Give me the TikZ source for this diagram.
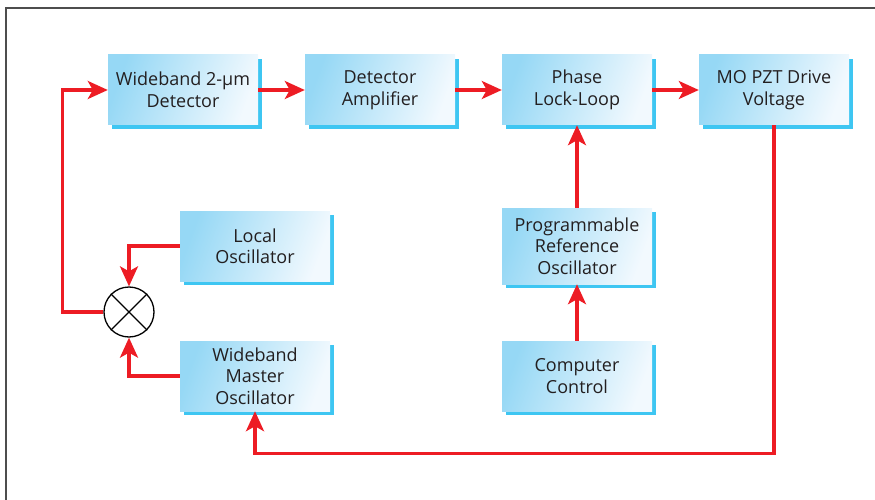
\documentclass[tikz,border=0pt]{standalone}
\usepackage{fontspec}
\setmainfont{Open Sans}
\usetikzlibrary{arrows.meta,shadows}
\definecolor{sigred}{RGB}{237,28,36}
\definecolor{boxblue}{RGB}{150,216,245}
\definecolor{boxwhite}{RGB}{242,249,254}
\definecolor{shadowcyan}{RGB}{62,198,242}
\definecolor{framegray}{RGB}{77,77,77}
\definecolor{textgray}{RGB}{35,31,32}
\begin{document}
\begin{tikzpicture}[x=1pt, y=-1pt,
    block/.style={rectangle, minimum width=150pt, minimum height=70pt, inner sep=2pt,
        align=center, text=textgray, font=\fontsize{18}{21.5}\selectfont,
        left color=boxblue, right color=boxwhite, shading angle=70,
        drop shadow={shadow xshift=4pt, shadow yshift=-4pt, fill=shadowcyan, opacity=1}},
    sig/.style={draw=sigred, line width=3.2pt, -{Stealth[length=20pt, width=18pt, inset=5pt]}},
    mixer/.style={circle, draw=black, line width=1.3pt, minimum size=50pt, inner sep=0pt}]
    \useasboundingbox (0,0) rectangle (875,500);
    % frame
    \draw[framegray, line width=2pt] (6,500) -- (6,8) -- (875,8);
    % blocks
    \node[block] (det) at (183, 90) {Wideband 2-µm\\Detector};
    \node[block] (amp) at (380, 90) {Detector\\Amplifier};
    \node[block] (pll) at (577, 90) {Phase\\Lock-Loop};
    \node[block] (mo) at (774, 90) {MO PZT Drive\\Voltage};
    \node[block] (lo) at (255, 246) {Local\\Oscillator};
    \node[block] (mst) at (255, 376) {Wideband\\Master\\Oscillator};
    \node[block, minimum height=76pt] (prog) at (577, 246) {Programmable\\Reference\\Oscillator};
    \node[block] (cc) at (577, 376) {Computer\\Control};
    % mixer
    \node[mixer] (mix) at (129, 312) {};
    \draw[line width=1.3pt] (mix.north west) -- (mix.south east);
    \draw[line width=1.3pt] (mix.north east) -- (mix.south west);
    % signal path
    \draw[sig] (det) -- (amp);
    \draw[sig] (amp) -- (pll);
    \draw[sig] (pll) -- (mo);
    \draw[sig] (cc) -- (prog);
    \draw[sig] (prog) -- (pll);
    \draw[sig] (lo.west) -| (mix.north);
    \draw[sig] (mst.west) -| (mix.south);
    \draw[sig] (mix.west) -- ++(-41,0) |- (det.west);
    \draw[sig] (mo.south) -- ++(0,328) -| (mst.south);
\end{tikzpicture}
\end{document}
